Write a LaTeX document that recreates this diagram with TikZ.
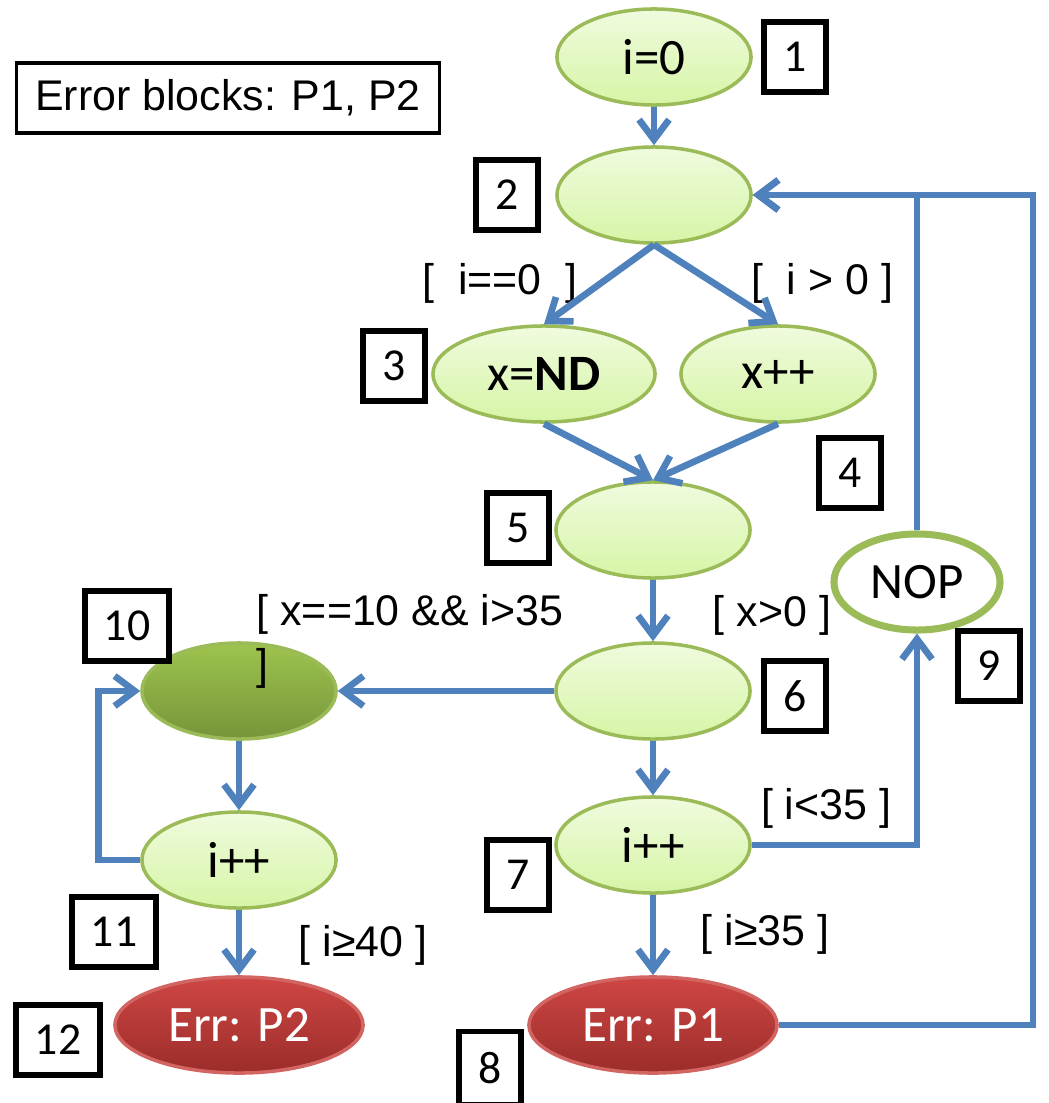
\documentclass[tikz,border=0pt]{standalone}
\usepackage{fontspec}
\setmainfont{Liberation Sans}
\newfontfamily\arialfont{Liberation Sans}
\newfontfamily\calfont{Carlito}
\usetikzlibrary{shapes.geometric,arrows.meta}

\definecolor{cblue}{RGB}{79,129,189}
\definecolor{ogreen}{RGB}{155,187,89}
\definecolor{ltop}{RGB}{240,251,222}
\definecolor{lbot}{RGB}{214,245,166}
\definecolor{dtop}{RGB}{158,196,78}
\definecolor{dbot}{RGB}{118,148,58}
\definecolor{rtop}{RGB}{206,70,68}
\definecolor{rbot}{RGB}{155,45,42}
\definecolor{rborder}{RGB}{210,100,98}

\newcommand{\nodefnt}{\calfont\fontsize{14.5}{16}\selectfont}
\newcommand{\numfnt}{\calfont\fontsize{13}{15}\selectfont}
\newcommand{\lblfnt}{\arialfont\fontsize{12.2}{16}\selectfont}

\tikzset{
  base/.style={ellipse, draw=ogreen, line width=1pt, inner sep=0pt,
    minimum width=1.94cm, minimum height=0.96cm, font=\nodefnt},
  lite/.style={base, top color=ltop, bottom color=lbot},
  darkn/.style={base, top color=dtop, bottom color=dbot},
  errn/.style={base, draw=rborder, top color=rtop, bottom color=rbot,
    minimum width=2.48cm, text=white},
  nopn/.style={base, fill=white, line width=2pt, minimum width=1.66cm},
  numbox/.style={draw=black, line width=1.6pt, fill=white, inner sep=0pt,
    minimum width=0.62cm, minimum height=0.70cm, font=\numfnt},
  widebox/.style={numbox, minimum width=0.84cm},
  conn/.style={draw=cblue, line width=1.9pt,
    -{Straight Barb[length=2mm,width=3mm,line width=1.9pt]}},
  lbl/.style={font=\lblfnt, inner sep=0pt},
}

\begin{document}
\begin{tikzpicture}[x=0.01cm,y=-0.01cm]
\useasboundingbox (0,0) rectangle (1049,1103);

% legend
\node[draw=black, line width=1pt, minimum width=4.23cm, minimum height=0.70cm,
      inner sep=0pt, font=\lblfnt] (legend) at (228,98) {Error blocks: P1, P2};

% control-flow nodes
\node[lite] (n1) at (654,57) {i=0};
\node[lite] (n2) at (654,195) {};
\node[lite, minimum width=2.22cm] (n3) at (544,374) {x=\textbf{ND}};
\node[lite] (n4) at (778,374) {x++};
\node[lite] (n5) at (653,530) {};
\node[lite] (n6) at (653,691) {};
\node[lite] (n7) at (653,845) {i++};
\node[errn] (e1) at (653,1025) {Err: P1};
\node[nopn] (nop) at (917,582) {NOP};
\node[darkn] (n10) at (239,691) {};
\node[lite] (n11) at (239,860) {i++};
\node[errn] (e2) at (239,1025) {Err: P2};

% block numbers
\node[numbox] (b1) at (795,57) {1};
\node[numbox] (b2) at (507,195) {2};
\node[numbox] (b3) at (394,366) {3};
\node[numbox] (b4) at (850,473) {4};
\node[numbox] (b5) at (518,528) {5};
\node[numbox] (b6) at (795,696) {6};
\node[numbox] (b7) at (518,875) {7};
\node[numbox, minimum height=0.73cm] (b8) at (490,1068) {8};
\node[numbox] (b9) at (989,666) {9};
\node[widebox] (b10) at (127,626) {10};
\node[widebox] (b11) at (114,932) {11};
\node[widebox] (b12) at (58,1040) {12};

% guards
\node[lbl] (g1) at (500,283) {[\ \ i==0\ \ ]};
\node[lbl] (g2) at (822,283) {[\ \ i > 0 ]};
\node[lbl] (g3) at (772,615) {[ x>0 ]};
\node[lbl, anchor=west] (g4) at (256,614) {[ x==10 \&\& i>35};
\node[lbl, anchor=west] (g4b) at (256,668) {]};
\node[lbl] (g5) at (826,808) {[ i<35 ]};
\node[lbl] (g6) at (765,934) {[ i≥35 ]};
\node[lbl] (g7) at (363,945) {[ i≥40 ]};

% edges
\coordinate (rc) at (1033,195);
\draw[conn] (n1) -- (n2);
\draw[conn] (n2.south) -- (n3.north);
\draw[conn] (n2.south) -- (n4.north);
\draw[conn] (n3.south) -- (n5.north);
\draw[conn] (n4.south) -- (n5.north);
\draw[conn] (n5) -- (n6);
\draw[conn] (n6) -- (n10);
\draw[conn] (n6) -- (n7);
\draw[conn] (n10) -- (n11);
\draw[conn] (n11.west) -- ++(-42,0) |- (n10.west);
\draw[conn] (n11) -- (e2);
\draw[conn] (n7) -- (e1);
\draw[conn] (n7.east) -| (nop.south);
\draw[conn] (nop.north) |- (n2.east);
\draw[conn] (e1.east) -| (rc) -- (n2.east);
\end{tikzpicture}
\end{document}
